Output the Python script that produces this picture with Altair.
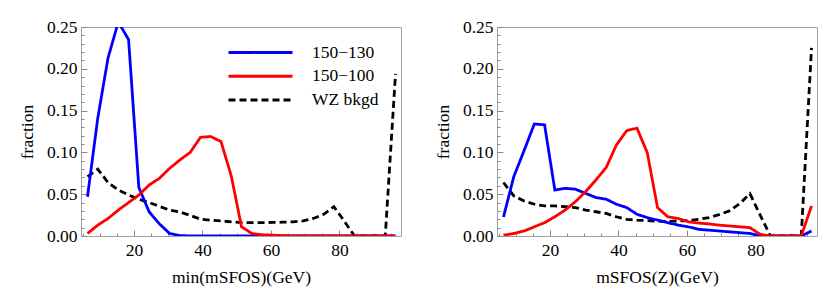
import altair as alt
import pandas as pd

# bin centres (GeV)
x_bins = [6.4, 9.4, 12.4, 15.4, 18.4, 21.4, 24.4, 27.4, 30.4, 33.4, 36.4,
          39.4, 42.4, 45.4, 48.4, 51.4, 54.4, 57.4, 60.4, 63.4, 66.4, 69.4,
          72.4, 75.4, 78.4, 81.4, 84.4, 87.4, 90.4, 93.4, 96.4]

series_names = ["150\u2212130", "150\u2212100", "WZ bkgd"]

# left panel: min(mSFOS)
left_blue = [0.047, 0.141, 0.213, 0.256, 0.235, 0.058, 0.029, 0.0145, 0.003, 0.0005, 0.0,
             0.0, 0.0, 0.0, 0.0, 0.0, 0.0, 0.0, 0.0, 0.0, 0.0, 0.0,
             0.0, 0.0, 0.0, 0.0, 0.0, 0.0, 0.0, 0.0, 0.0]
left_red = [0.003, 0.013, 0.021, 0.031, 0.040, 0.049, 0.061, 0.069, 0.081, 0.091, 0.100,
            0.118, 0.119, 0.113, 0.072, 0.011, 0.003, 0.0015, 0.001, 0.0005, 0.0, 0.0,
            0.0, 0.0, 0.0, 0.0, 0.0, 0.0, 0.0, 0.0, 0.0]
left_black = [0.071, 0.080, 0.064, 0.055, 0.049, 0.044, 0.040, 0.0355, 0.031, 0.0287, 0.0247,
              0.020, 0.019, 0.018, 0.017, 0.016, 0.016, 0.016, 0.0162, 0.0165, 0.017, 0.018,
              0.021, 0.026, 0.035, 0.018, 0.0, 0.0, 0.0, 0.0, 0.194]

# right panel: mSFOS(Z)
right_blue = [0.0227, 0.071, 0.102, 0.134, 0.133, 0.055, 0.057, 0.056, 0.051, 0.046, 0.044,
              0.038, 0.034, 0.026, 0.022, 0.019, 0.016, 0.013, 0.011, 0.008, 0.007, 0.006,
              0.005, 0.004, 0.003, 0.0, 0.0, 0.0, 0.0, 0.0, 0.006]
right_red = [0.001, 0.003, 0.006, 0.011, 0.016, 0.023, 0.031, 0.041, 0.053, 0.067, 0.082,
             0.109, 0.126, 0.129, 0.0997, 0.034, 0.023, 0.021, 0.017, 0.0155, 0.0145, 0.013,
             0.012, 0.011, 0.010, 0.002, 0.0, 0.0, 0.0, 0.0, 0.036]
right_black = [0.064, 0.048, 0.042, 0.038, 0.036, 0.036, 0.035, 0.034, 0.031, 0.029, 0.027,
               0.023, 0.020, 0.019, 0.0185, 0.0175, 0.0175, 0.018, 0.0185, 0.020, 0.022, 0.0255,
               0.030, 0.0387, 0.0506, 0.025, 0.0, 0.0, 0.0, 0.0, 0.225]

x_major = [20, 40, 60, 80]
x_minor = [5, 10, 15, 25, 30, 35, 45, 50, 55, 65, 70, 75, 85, 90, 95]
y_major = [0.0, 0.05, 0.10, 0.15, 0.20, 0.25]
y_minor = [0.01, 0.02, 0.03, 0.04, 0.06, 0.07, 0.08, 0.09, 0.11, 0.12, 0.13, 0.14,
           0.16, 0.17, 0.18, 0.19, 0.21, 0.22, 0.23, 0.24]

colors = ["#0000ff", "#ff0000", "#000000"]
dashes = [[1, 0], [1, 0], [7, 4]]
draw_order = ["WZ bkgd", "150\u2212130", "150\u2212100"]

FONT = "Liberation Serif"
FS = 17.5
TICK = "#8a8a8a"
W, H = 320, 209


def make_df(blue, red, black):
    rows = []
    for name, vals in zip(series_names, [blue, red, black]):
        for x, y in zip(x_bins, vals):
            rows.append({"x": x, "y": y, "series": name})
    return pd.DataFrame(rows)


xscale = alt.Scale(domain=[4.5, 98.0], nice=False, zero=False)
yscale = alt.Scale(domain=[0, 0.25], nice=False, zero=False)


def panel(df, xtitle, with_legend):
    major_x = alt.Axis(values=x_major, tickSize=6, offset=-6, domain=False, grid=False,
                       labelPadding=5, titlePadding=10, tickColor=TICK, title=xtitle,
                       labelFont=FONT, labelFontSize=FS, labelColor="black",
                       titleFont=FONT, titleFontSize=FS, titleColor="black",
                       titleFontWeight="normal")
    major_y = alt.Axis(values=y_major, format=".2f", tickSize=6, offset=-6, domain=False,
                       grid=False, labelPadding=4, titlePadding=10, tickColor=TICK,
                       title="fraction",
                       labelFont=FONT, labelFontSize=FS, labelColor="black",
                       titleFont=FONT, titleFontSize=FS, titleColor="black",
                       titleFontWeight="normal")
    minor_x = alt.Axis(values=x_minor, tickSize=3, offset=-3, domain=False, grid=False,
                       labels=False, title=None, orient="bottom", tickColor=TICK)
    minor_y = alt.Axis(values=y_minor, tickSize=3, offset=-3, domain=False, grid=False,
                       labels=False, title=None, orient="left", tickColor=TICK)
    if with_legend:
        legend = alt.Legend(title=None, orient="none", legendX=168, legendY=14,
                            symbolType="M-3.2,0H3.2", symbolSize=400, symbolStrokeWidth=3,
                            labelOffset=40, labelFont=FONT, labelFontSize=FS,
                            labelColor="black", rowPadding=3.8, padding=0)
    else:
        legend = None
    color = alt.Color("series:N", scale=alt.Scale(domain=series_names, range=colors),
                      legend=legend)
    dash = alt.StrokeDash("series:N", scale=alt.Scale(domain=series_names, range=dashes),
                          legend=legend)
    layers = []
    for i, name in enumerate(draw_order):
        xenc = alt.X("x:Q", scale=xscale, axis=major_x if i == 0 else None)
        yenc = alt.Y("y:Q", scale=yscale, axis=major_y if i == 0 else None)
        layers.append(
            alt.Chart(df)
            .transform_filter(alt.datum.series == name)
            .mark_line(strokeWidth=2.8, clip=True)
            .encode(x=xenc, y=yenc, color=color, strokeDash=dash)
        )
    minor = alt.Chart(df).mark_line(strokeOpacity=0, clip=True).encode(
        x=alt.X("x:Q", scale=xscale, axis=minor_x),
        y=alt.Y("y:Q", scale=yscale, axis=minor_y),
    )
    return (
        alt.layer(*layers, minor)
        .resolve_axis(x="independent", y="independent")
        .properties(width=W, height=H)
    )


left = panel(make_df(left_blue, left_red, left_black), "min(mSFOS)(GeV)", True)
right = panel(make_df(right_blue, right_red, right_black), "mSFOS(Z)(GeV)", False)

chart = (
    alt.hconcat(left, right, spacing=31)
    .resolve_scale(color="independent", strokeDash="independent")
    .properties(padding={"left": 9, "top": 9, "right": 5, "bottom": 5},
                background="white")
    .configure_view(stroke="#a0a0a0", strokeWidth=1)
)

chart.save("out.html", embed_options={"renderer": "svg", "actions": False})
